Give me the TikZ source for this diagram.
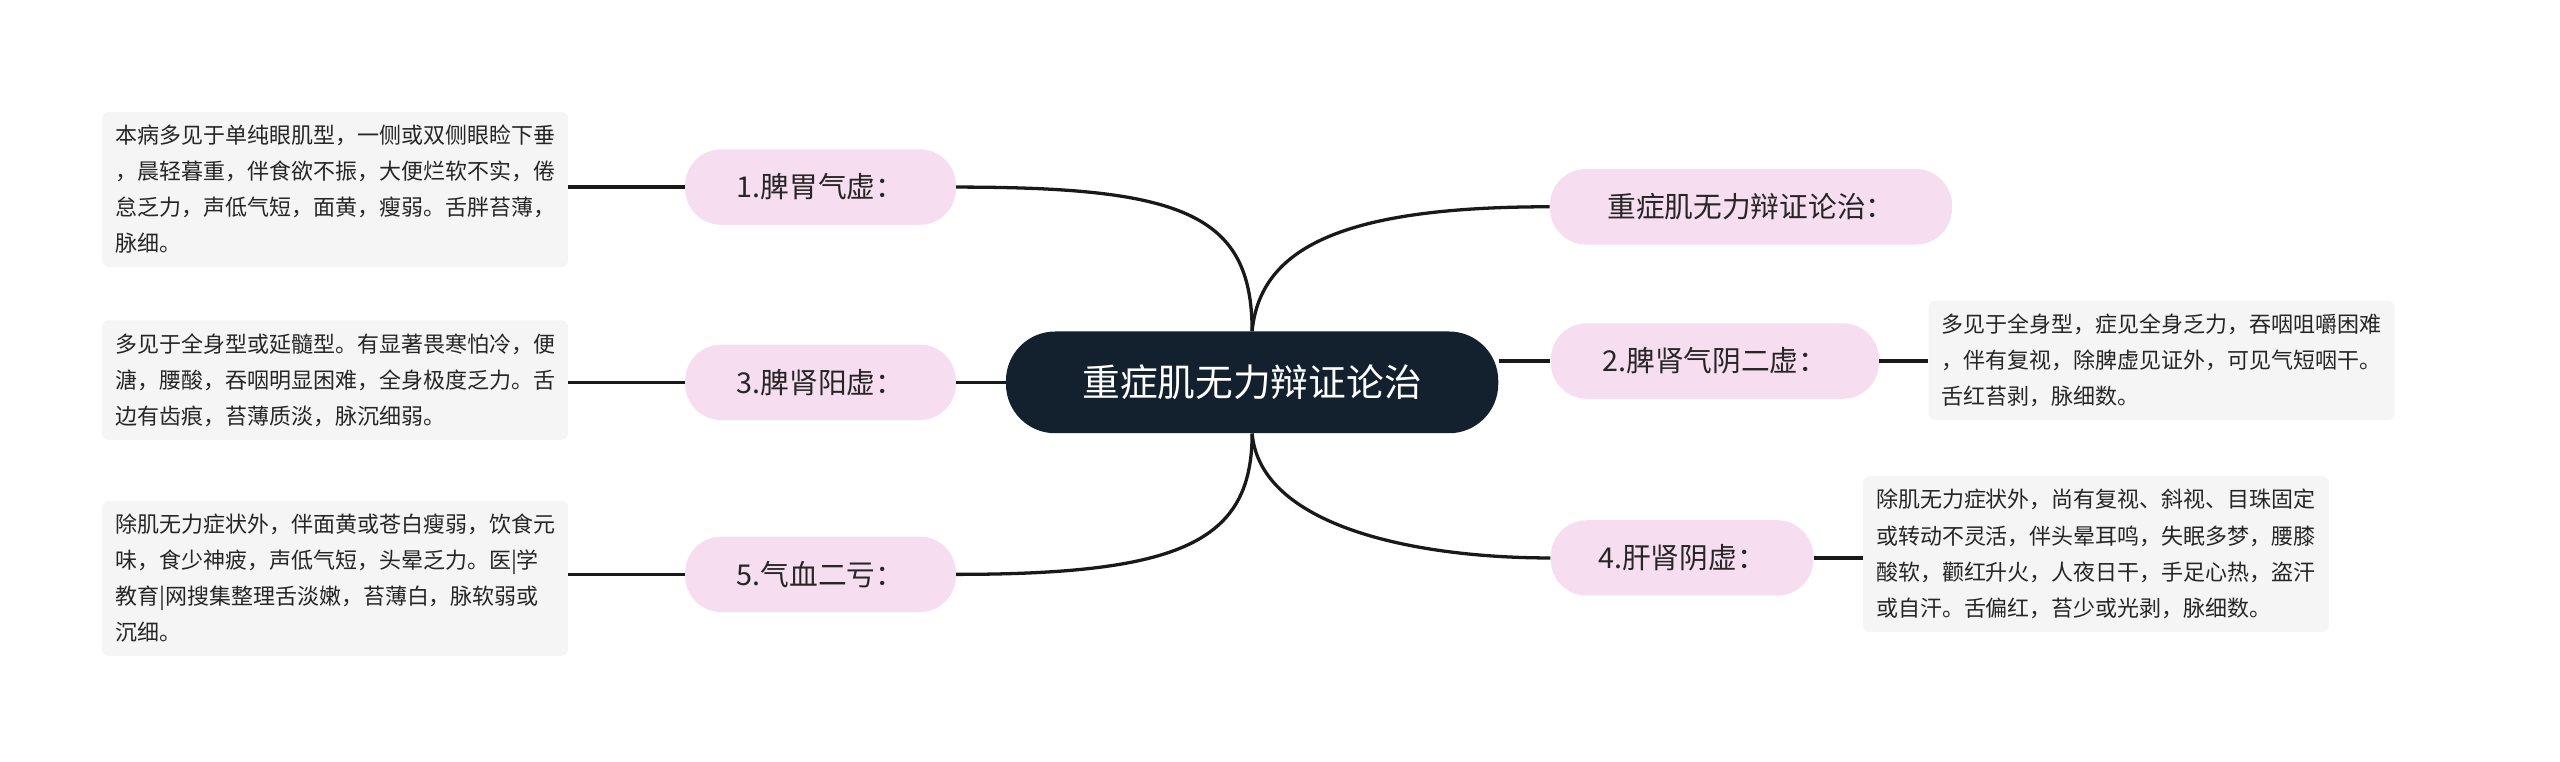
\documentclass[tikz,border=0pt]{standalone}
\usepackage{fontspec}
\setmainfont{Noto Sans CJK SC}
\begin{document}
\begin{tikzpicture}[x=1pt,y=-1pt,
 pill/.style={draw=none,fill=pink1,rounded corners=22pt,minimum height=46pt,font=\fontsize{17.5}{20}\selectfont,text=black!85,inner xsep=10pt},
 desc/.style={fill=gray1,rounded corners=4pt,align=left,font=\fontsize{13.4}{22}\selectfont,text=black!85,inner sep=8pt,anchor=north west},
 conn/.style={line width=2pt,draw=black!90}]
\definecolor{pink1}{HTML}{F7DDF0}
\definecolor{gray1}{HTML}{F5F5F5}
\definecolor{dark1}{HTML}{13202E}
\useasboundingbox (0,0) rectangle (1560,464);
\node[fill=dark1,text=white,rounded corners=30pt,minimum width=300pt,minimum height=62pt,font=\fontsize{23}{26}\selectfont] (c) at (763,233) {重症肌无力辩证论治};
\node[pill,minimum width=165pt] (l1) at (500,114) {1.脾胃气虚：};
\node[pill,minimum width=165pt] (l3) at (500,233) {3.脾肾阳虚：};
\node[pill,minimum width=165pt] (l5) at (500,350) {5.气血二亏：};
\node[pill,minimum width=245pt] (r0) at (1067,126) {重症肌无力辩证论治：};
\node[pill,minimum width=200pt] (r2) at (1045,220) {2.脾肾气阴二虚：};
\node[pill,minimum width=160pt] (r4) at (1025,340) {4.肝肾阴虚：};
\node[desc] (d1) at (62,68) {本病多见于单纯眼肌型，一侧或双侧眼睑下垂\\，晨轻暮重，伴食欲不振，大便烂软不实，倦\\怠乏力，声低气短，面黄，瘦弱。舌胖苔薄，\\脉细。};
\node[desc] (d3) at (62,195) {多见于全身型或延髓型。有显著畏寒怕冷，便\\溏，腰酸，吞咽明显困难，全身极度乏力。舌\\边有齿痕，苔薄质淡，脉沉细弱。};
\node[desc] (d5) at (62,305) {除肌无力症状外，伴面黄或苍白瘦弱，饮食元\\味，食少神疲，声低气短，头晕乏力。医|学\\教育|网搜集整理舌淡嫩，苔薄白，脉软弱或\\沉细。};
\node[desc] (d2) at (1175,183) {多见于全身型，症见全身乏力，吞咽咀嚼困难\\，伴有复视，除脾虚见证外，可见气短咽干。\\舌红苔剥，脉细数。};
\node[desc] (d4) at (1135,290) {除肌无力症状外，尚有复视、斜视、目珠固定\\或转动不灵活，伴头晕耳鸣，失眠多梦，腰膝\\酸软，颧红升火，人夜日干，手足心热，盗汗\\或自汗。舌偏红，苔少或光剥，脉细数。};
\draw[conn] (c.north) .. controls (763,130) and (720,114) .. (l1.east);
\draw[conn] (c.west) -- (l3.east);
\draw[conn] (c.south) .. controls (763,330) and (720,350) .. (l5.east);
\draw[conn] (c.north) .. controls (768,150) and (820,126) .. (r0.west);
\draw[conn] (c.east) ++(0,-13) .. controls (930,220) .. (r2.west);
\draw[conn] (c.south) .. controls (768,320) and (860,340) .. (r4.west);
\draw[conn] (l1.west) -- (d1.east|-l1.west);
\draw[conn] (l3.west) -- (d3.east|-l3.west);
\draw[conn] (l5.west) -- (d5.east|-l5.west);
\draw[conn] (r2.east) -- (d2.west|-r2.east);
\draw[conn] (r4.east) -- (d4.west|-r4.east);
\end{tikzpicture}
\end{document}
